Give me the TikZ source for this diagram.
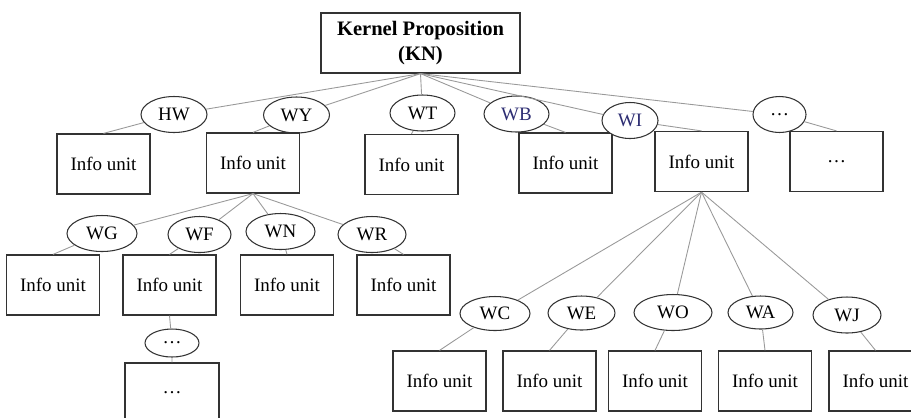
\documentclass[tikz,border=0pt]{standalone}
\usepackage{fontspec}
\setmainfont{Liberation Serif}
\usetikzlibrary{shapes.geometric}
\usetikzlibrary{positioning}
\definecolor{labelblue}{RGB}{45,45,115}

\begin{document}
\begin{tikzpicture}[
x=0.02cm, y=-0.02cm,
roundnode/.style={ellipse, draw=black!80, fill=white, line width=0.6pt, inner sep=0pt, minimum width=1.32cm, minimum height=0.72cm, font=\fontsize{10.8}{13}\selectfont},
squarednode/.style={rectangle, draw=black!80, fill=white, line width=0.7pt, inner sep=0pt, minimum width=1.86cm, minimum height=1.2cm, align=center, font=\fontsize{10.8}{13}\selectfont},
link/.style={draw=gray!80, line width=0.5pt},
]
\useasboundingbox (0,0) rectangle (911,417);
\clip (0,0) rectangle (911,417);
%Nodes
\node[squarednode, minimum width=3.98cm, font=\fontsize{11.7}{14}\selectfont\bfseries] (kernel_node) at (420.5,43) {Kernel Proposition\\(KN)};

\node[roundnode]                        (hw_node)        at (174,114.5) {HW};
\node[squarednode]                      (hw_unit_node)   at (103.5,164) {Info unit};
\node[roundnode]                        (wy_node)        at (296.5,115) {WY};
\node[squarednode]                      (wy_unit_node)   at (253,163)   {Info unit};
\node[roundnode, minimum width=1.3cm]   (wt_node)        at (422.5,113) {WT};
\node[squarednode]                      (wt_unit_node)   at (411.5,164.5) {Info unit};
\node[roundnode, text=labelblue, minimum width=1.3cm] (wb_node) at (516.5,114) {WB};
\node[squarednode]                      (wb_unit_node)   at (565.5,163) {Info unit};
\node[roundnode, text=labelblue, minimum width=1.12cm] (wi_node) at (630,120.5) {WI};
\node[squarednode]                      (wi_unit_node)   at (701.5,161.5) {Info unit};
\node[roundnode, minimum width=1.06cm]  (more_node)      at (779.5,114.5) {…};
\node[squarednode]                      (more_unit_node) at (836.5,161.5) {…};

\node[roundnode, minimum width=1.4cm]   (wg_node)        at (102,233.5) {WG};
\node[squarednode]                      (wg_unit_node)   at (53,285)    {Info unit};
\node[roundnode, minimum width=1.26cm]  (wf_node)        at (199.5,234.5) {WF};
\node[squarednode]                      (wf_unit_node)   at (169.5,285) {Info unit};
\node[roundnode, minimum width=1.38cm]  (wn_node)        at (280.5,231.5) {WN};
\node[squarednode]                      (wn_unit_node)   at (287,285)   {Info unit};
\node[roundnode, minimum width=1.36cm]  (wr_node)        at (372,234.5) {WR};
\node[squarednode]                      (wr_unit_node)   at (403.5,285) {Info unit};
\node[roundnode, minimum width=1.08cm, minimum height=0.56cm] (wf_more_node) at (172,343) {…};
\node[squarednode, minimum width=1.88cm] (wf_more_unit_node) at (172,393) {…};

\node[roundnode, minimum width=1.4cm, minimum height=0.68cm]  (wc_node) at (495,313.5) {WC};
\node[squarednode]                      (wc_unit_node)   at (439.5,381) {Info unit};
\node[roundnode, minimum width=1.34cm, minimum height=0.68cm] (we_node) at (581.5,313) {WE};
\node[squarednode]                      (we_unit_node)   at (549.5,381) {Info unit};
\node[roundnode, minimum width=1.56cm]  (wo_node)        at (673,312.5) {WO};
\node[squarednode]                      (wo_unit_node)   at (655,381)   {Info unit};
\node[roundnode, minimum width=1.3cm, minimum height=0.66cm]  (wa_node) at (760.5,312.5) {WA};
\node[squarednode]                      (wa_unit_node)   at (765,381)   {Info unit};
\node[roundnode, minimum width=1.36cm]  (wj_node)        at (847,315)   {WJ};
\node[squarednode]                      (wj_unit_node)   at (875.5,381) {Info unit};

%Lines
\draw[link] (kernel_node.south) -- (hw_node)   (hw_node)   -- (hw_unit_node.north);
\draw[link] (kernel_node.south) -- (wy_node)   (wy_node)   -- (wy_unit_node.north);
\draw[link] (kernel_node.south) -- (wt_node)   (wt_node)   -- (wt_unit_node.north);
\draw[link] (kernel_node.south) -- (wb_node)   (wb_node)   -- (wb_unit_node.north);
\draw[link] (kernel_node.south) -- (wi_node)   (wi_node)   -- (wi_unit_node.north);
\draw[link] (kernel_node.south) -- (more_node) (more_node) -- (more_unit_node.north);

\draw[link] (wy_unit_node.south) -- (wg_node) (wg_node) -- (wg_unit_node.north);
\draw[link] (wy_unit_node.south) -- (wf_node) (wf_node) -- (wf_unit_node.north);
\draw[link] (wy_unit_node.south) -- (wn_node) (wn_node) -- (wn_unit_node.north);
\draw[link] (wy_unit_node.south) -- (wr_node) (wr_node) -- (wr_unit_node.north);
\draw[link] (wf_unit_node.south) -- (wf_more_node) (wf_more_node) -- (wf_more_unit_node.north);

\draw[link] (wi_unit_node.south) -- (wc_node) (wc_node) -- (wc_unit_node.north);
\draw[link] (wi_unit_node.south) -- (we_node) (we_node) -- (we_unit_node.north);
\draw[link] (wi_unit_node.south) -- (wo_node) (wo_node) -- (wo_unit_node.north);
\draw[link] (wi_unit_node.south) -- (wa_node) (wa_node) -- (wa_unit_node.north);
\draw[link] (wi_unit_node.south) -- (wj_node) (wj_node) -- (wj_unit_node.north);

\end{tikzpicture}
\end{document}
